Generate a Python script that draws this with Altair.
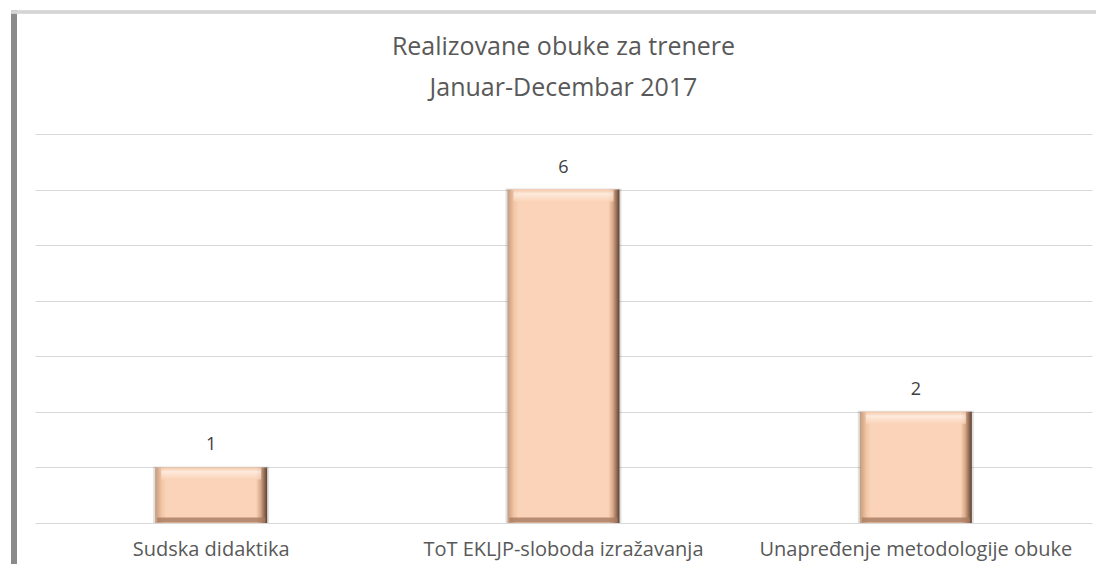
import altair as alt
import pandas as pd

categories = ["Sudska didaktika", "ToT EKLJP-sloboda izražavanja", "Unapređenje metodologije obuke"]
values = [1, 6, 2]
title_lines = ["Realizovane obuke za trenere", "Januar-Decembar 2017"]

df = pd.DataFrame({"cat": categories, "val": values, "zero": [0] * len(values)})

W, H = 1057, 389
FONT = "Open Sans"

xenc = alt.X("cat:N", sort=categories,
             scale=alt.Scale(paddingInner=0.68, paddingOuter=0.34),
             axis=alt.Axis(title=None, labelAngle=0, ticks=False, domain=False, grid=False,
                           labelFont=FONT, labelFontSize=20, labelColor="#595959",
                           labelPadding=16, labelLimit=500))
yscale = alt.Scale(domain=[0, 7], nice=False)
yenc = alt.Y("val:Q", scale=yscale,
             axis=alt.Axis(title=None, labels=False, ticks=False, domain=False,
                           values=[0, 1, 2, 3, 4, 5, 6, 7], gridColor="#D9D9D9", gridWidth=1))

base = alt.Chart(df)

shadow = base.mark_bar(color="#000000", opacity=0.12, size=116, yOffset=-1).encode(
    x=xenc, y=yenc, y2="zero:Q")

main = base.mark_bar(
    size=112,
    color=alt.Gradient(gradient="linear", x1=0, y1=0, x2=1, y2=0,
                       stops=[alt.GradientStop(offset=0, color="#C49A7E"),
                              alt.GradientStop(offset=0.06, color="#F3C6A6"),
                              alt.GradientStop(offset=0.1, color="#FAD3B8"),
                              alt.GradientStop(offset=0.9, color="#FAD3B8"),
                              alt.GradientStop(offset=0.94, color="#D9A98A"),
                              alt.GradientStop(offset=1, color="#5E4030")])
).encode(x=xenc, y=yenc, y2="zero:Q")

top_hl = base.mark_tick(
    color=alt.Gradient(gradient="linear", x1=0, y1=0, x2=0, y2=1,
                       stops=[alt.GradientStop(offset=0, color="#F2C3A2"),
                              alt.GradientStop(offset=0.35, color="#FFF4EC"),
                              alt.GradientStop(offset=1, color="#FAD3B8")]),
    thickness=12, size=100, yOffset=6).encode(
    x=xenc, y=alt.Y("val:Q", scale=yscale))
bottom_edge = base.mark_tick(color="#A87A60", thickness=5, size=108, yOffset=-3, opacity=0.8).encode(
    x=xenc, y=alt.Y("zero:Q", scale=yscale))

labels = base.mark_text(dy=-22, font=FONT, fontSize=18, color="#404040").encode(
    x=xenc, y=alt.Y("val:Q", scale=yscale), text="val:Q")

frame_left = base.mark_rule(color="#8A8A8A", strokeWidth=6, opacity=0.8).encode(
    x=alt.value(-21), y=alt.value(-124), y2=alt.value(H + 50))
frame_top = base.mark_rule(color="#D5D5D5", strokeWidth=3).encode(
    x=alt.value(-24), x2=alt.value(W + 20), y=alt.value(-122))

chart = alt.layer(frame_left, frame_top, shadow, main, top_hl, bottom_edge, labels).properties(
    width=W, height=H,
    title=alt.TitleParams(text=title_lines, font=FONT, fontSize=25, fontWeight="normal",
                          color="#595959", lineHeight=41, offset=0, dy=94, anchor="middle"),
    autosize=alt.AutoSizeParams(type="none"),
    padding={"left": 27, "top": 126, "right": 4, "bottom": 41},
    background="white",
).configure_view(stroke=None)

chart.save("out.html", embed_options={"renderer": "svg", "actions": False})
